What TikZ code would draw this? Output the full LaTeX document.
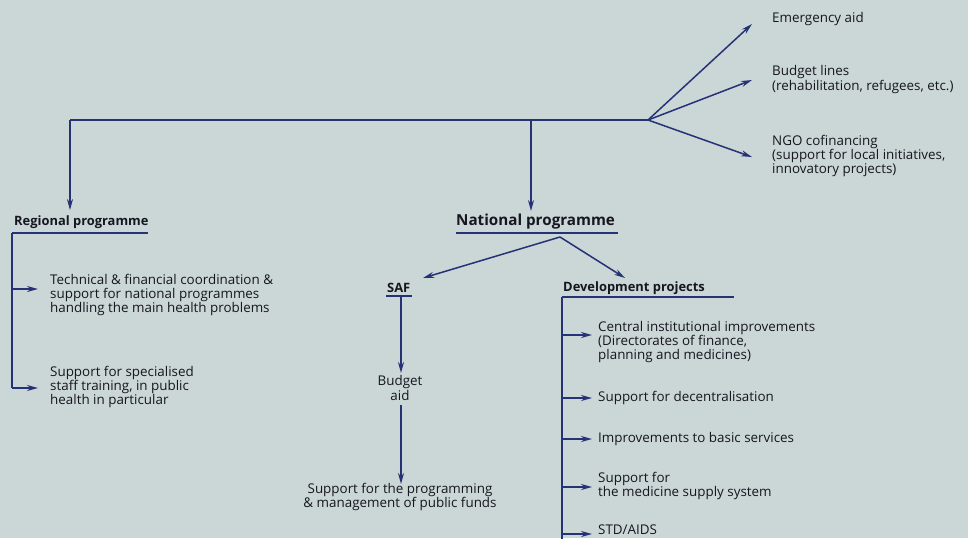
\documentclass[tikz,border=0pt]{standalone}
\usepackage{fontspec}
\setmainfont{Open Sans}
\usetikzlibrary{arrows.meta}
\definecolor{bg}{RGB}{203,214,214}
\definecolor{ln}{RGB}{38,50,118}
\definecolor{tx}{RGB}{22,22,32}
\tikzset{
 conn/.style={draw=ln, line width=1.5pt},
 arr/.style={conn, -{Stealth[length=11pt,width=6pt]}},
 lbl/.style={text=tx, font=\fontsize{13.4}{14.3}\selectfont, align=left, anchor=west, inner sep=0pt},
 clbl/.style={lbl, align=center, anchor=center},
 head/.style={text=tx, font=\fontsize{12.9}{14}\selectfont\bfseries, anchor=west, inner sep=0pt},
 bighead/.style={text=tx, font=\fontsize{15.2}{16}\selectfont\bfseries, anchor=west, inner sep=0pt},
}
\begin{document}
\begin{tikzpicture}[x=1pt,y=-1pt]
\useasboundingbox (0,0) rectangle (968,538);
\fill[bg] (0,0) rectangle (968,538);
\clip (0,0) rectangle (968,538);

% top distribution line
\coordinate (tl) at (70,120);
\coordinate (tn) at (531,120);
\coordinate (fan) at (648,120);
\draw[conn] (tl) -- (fan);

% right fan
\node[lbl] (emer) at (772,19) {Emergency aid};
\node[lbl] (budl) at (772,79.5) {Budget lines\\(rehabilitation, refugees, etc.)};
\node[lbl] (ngo) at (772,156) {NGO cofinancing\\(support for local initiatives,\\innovatory projects)};
\coordinate (e1) at (752,24);
\coordinate (e2) at (752,80);
\coordinate (e3) at (752,157);
\draw[arr] (fan) -- (e1);
\draw[arr] (fan) -- (e2);
\draw[arr] (fan) -- (e3);

% regional programme
\node[head] (reg) at (14,222) {Regional programme};
\coordinate (rl) at (12,233);
\coordinate (rr) at (148,233);
\draw[arr] (tl) -- (70,210);
\draw[conn] (rl) -- (rr);
\node[lbl] (tech) at (50,295) {Technical \& financial coordination \&\\support for national programmes\\handling the main health problems};
\node[lbl] (staff) at (50,387) {Support for specialised\\staff training, in public\\health in particular};
\coordinate (r1) at (12,289);
\coordinate (r2) at (12,388);
\draw[conn] (rl) -- (r2);
\draw[arr] (r1) -- (38,289);
\draw[arr] (r2) -- (38,388);

% national programme
\node[bighead] (nat) at (456,222) {National programme};
\coordinate (nl) at (456,233);
\coordinate (nr) at (618,233);
\draw[conn] (nl) -- (nr);
\draw[arr] (tn) -- (531,211);
\coordinate (nf) at (560,237);

% SAF branch
\node[head] (saf) at (387,288) {SAF};
\draw[conn] (386,296) -- (412,296);
\draw[arr] (nf) -- (423,278);
\node[clbl] (baid) at (400,388) {Budget\\aid};
\node[clbl] (supp) at (400,497) {Support for the programming\\\& management of public funds};
\draw[arr] (401,296) -- (401,373);
\draw[arr] (401,405) -- (401,484);

% development projects
\node[head] (dev) at (563,288) {Development projects};
\draw[arr] (nf) -- (625,278);
\coordinate (dl) at (562,297);
\draw[conn] (dl) -- (734,297);
\draw[conn] (dl) -- (562,545);
\node[lbl] (cent) at (598,342) {Central institutional improvements\\(Directorates of finance,\\planning and medicines)};
\node[lbl] (dece) at (598,398) {Support for decentralisation};
\node[lbl] (basi) at (598,439) {Improvements to basic services};
\node[lbl] (medi) at (598,486) {Support for\\the medicine supply system};
\node[lbl] (std) at (598,530) {STD/AIDS};
\draw[arr] (562,335) -- (592,335);
\draw[arr] (562,398) -- (592,398);
\draw[arr] (562,439) -- (592,439);
\draw[arr] (562,487) -- (592,487);
\draw[arr] (562,534) -- (592,534);
\end{tikzpicture}
\end{document}
